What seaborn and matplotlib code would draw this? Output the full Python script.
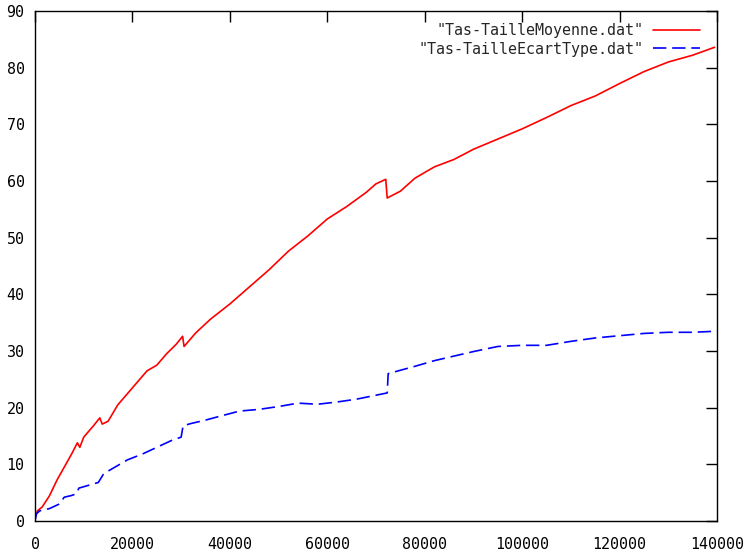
import matplotlib
matplotlib.use("Agg")
import matplotlib.pyplot as plt
import seaborn as sns
import pandas as pd

moy_x = [0, 500, 1500, 3000, 4500, 6000, 7500, 8700, 9200, 10000, 12000, 13300, 13800, 15000,
         17000, 20000, 23000, 25000, 27000, 29000, 30300, 30600, 33000, 36000, 40000, 44000,
         48000, 52000, 56000, 60000, 64000, 68000, 70000, 72000, 72300, 75000, 78000, 82000,
         86000, 90000, 95000, 100000, 105000, 110000, 115000, 120000, 125000, 130000, 135000, 139500]
moy_y = [0.5, 1.8, 2.5, 4.5, 7.2, 9.5, 11.8, 13.8, 13.0, 14.8, 16.8, 18.2, 17.1, 17.6,
         20.5, 23.5, 26.5, 27.5, 29.5, 31.2, 32.6, 30.8, 33.2, 35.6, 38.3, 41.3,
         44.3, 47.6, 50.3, 53.3, 55.5, 58.0, 59.5, 60.3, 57.0, 58.2, 60.5, 62.5,
         63.8, 65.6, 67.4, 69.2, 71.2, 73.3, 75.0, 77.2, 79.3, 81.0, 82.2, 83.6]

ect_x = [0, 300, 1000, 3000, 5000, 6000, 7500, 8500, 9000, 11000, 13000, 14000, 15000, 17000,
         19000, 22000, 25000, 28000, 30000, 30400, 32000, 35000, 38000, 42000, 46000, 50000,
         54000, 58000, 62000, 66000, 70000, 72300, 72500, 75000, 78000, 82000, 86000, 90000,
         95000, 100000, 105000, 110000, 115000, 120000, 125000, 130000, 135000, 140000]
ect_y = [0.0, 1.3, 1.8, 2.2, 3.0, 4.2, 4.5, 4.8, 5.8, 6.3, 6.8, 8.2, 8.8, 9.8,
         10.8, 11.8, 13.0, 14.2, 14.8, 16.8, 17.2, 17.8, 18.5, 19.4, 19.7, 20.2,
         20.8, 20.6, 21.0, 21.5, 22.2, 22.6, 26.0, 26.6, 27.3, 28.3, 29.1, 29.9,
         30.8, 31.0, 31.0, 31.7, 32.3, 32.7, 33.1, 33.3, 33.3, 33.5]

labels = ['"Tas-TailleMoyenne.dat"', '"Tas-TailleEcartType.dat"']
xticks = [0, 20000, 40000, 60000, 80000, 100000, 120000, 140000]
yticks = [0, 10, 20, 30, 40, 50, 60, 70, 80, 90]

df = pd.concat([
    pd.DataFrame({"x": moy_x, "y": moy_y, "serie": labels[0]}),
    pd.DataFrame({"x": ect_x, "y": ect_y, "serie": labels[1]}),
], ignore_index=True)

sns.set_style("white")
plt.rcParams["font.family"] = ["DejaVu Sans Mono", "DejaVu Sans"]

fig = plt.figure(figsize=(7.46, 5.52), dpi=100)
ax = fig.add_axes([35 / 746, 1 - 521 / 552, (717 - 35) / 746, (521 - 11) / 552])

sns.lineplot(data=df, x="x", y="y", hue="serie", style="serie",
             palette={labels[0]: "#ff0000", labels[1]: "#0000ff"},
             dashes={labels[0]: "", labels[1]: (8, 3.5)},
             linewidth=1.2, sort=False, estimator=None, ax=ax)

ax.set_xlim(0, 140000)
ax.set_ylim(0, 90)
ax.set_xticks(xticks)
ax.set_yticks(yticks)
ax.set_xticklabels([str(t) for t in xticks])
ax.set_yticklabels([str(t) for t in yticks])
ax.set_xlabel("")
ax.set_ylabel("")
ax.tick_params(direction="in", length=8, width=1, top=True, right=True,
               labelsize=10.8, colors="black")
ax.tick_params(axis="y", pad=7.5)
ax.tick_params(axis="x", pad=11.5)
for s in ax.spines.values():
    s.set_visible(True)
    s.set_color("black")
    s.set_linewidth(1)

handles, lbls = ax.get_legend_handles_labels()
ax.legend(handles, lbls, loc="upper right", bbox_to_anchor=(0.975, 0.976),
          frameon=False, markerfirst=False,
          handlelength=3.1, handletextpad=0.67, labelspacing=0.23, fontsize=10.8,
          borderaxespad=0, borderpad=0)

fig.savefig("out.png", dpi=100)
